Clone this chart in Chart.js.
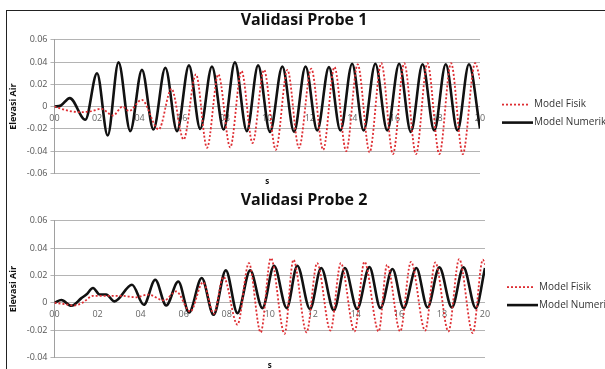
<!DOCTYPE html>
<html>
<head>
<meta charset="utf-8">
<script src="https://cdn.jsdelivr.net/npm/chart.js@4.4.0/dist/chart.umd.min.js"></script>
<style>
  body { margin: 0; background: #fff; overflow: hidden; width: 605px; height: 369px; position: relative; }
  #frame { position: absolute; left: 6px; top: 10px; width: 700px; height: 500px; border: 1px solid #222; }
  .box { position: absolute; left: 0; width: 608px; }
</style>
</head>
<body>
<div id="frame"></div>
<div class="box" style="top:8px;height:182px"><canvas id="probe1"></canvas></div>
<div class="box" style="top:188px;height:186px"><canvas id="probe2"></canvas></div>
<script>
// Validasi Probe 1 - peaks/troughs (time in s, elevation)
var p1NumT = [0, 0.3, 0.72, 1.45, 2.0, 2.5, 3.01, 3.56, 4.11, 4.65, 5.21, 5.76, 6.32, 6.85, 7.4, 7.95, 8.48, 9.04, 9.57, 10.13, 10.71, 11.26, 11.8, 12.35, 12.9, 13.44, 13.99, 14.53, 15.08, 15.64, 16.2, 16.75, 17.3, 17.85, 18.39, 18.94, 19.48, 20];
var p1NumV = [0, 0.001, 0.0076, -0.0118, 0.030, -0.026, 0.0397, -0.022, 0.033, -0.0206, 0.0349, -0.022, 0.037, -0.020, 0.036, -0.0206, 0.0397, -0.022, 0.037, -0.0227, 0.036, -0.0227, 0.036, -0.0215, 0.0355, -0.0215, 0.0385, -0.0215, 0.0385, -0.0215, 0.0385, -0.0227, 0.038, -0.0215, 0.038, -0.0215, 0.038, -0.0196];
var p1FisT = [0, 0.7, 1.25, 1.75, 2.2, 2.75, 3.2, 3.5, 4.1, 4.9, 5.5, 6.07, 6.65, 7.17, 7.7, 8.26, 8.79, 9.31, 9.85, 10.4, 10.95, 11.49, 12.07, 12.63, 13.16, 13.71, 14.25, 14.81, 15.36, 15.91, 16.44, 16.99, 17.53, 18.09, 18.64, 19.19, 19.77, 20];
var p1FisV = [0, -0.004, -0.005, -0.004, -0.002, -0.008, 0.0, -0.004, 0.006, -0.0205, 0.016, -0.0296, 0.029, -0.037, 0.029, -0.0366, 0.032, -0.0327, 0.033, -0.0388, 0.033, -0.037, 0.034, -0.0388, 0.0355, -0.040, 0.038, -0.041, 0.039, -0.0427, 0.039, -0.0427, 0.039, -0.0427, 0.039, -0.0427, 0.039, 0.025];

// Validasi Probe 2
var p2NumT = [0, 0.32, 0.79, 1.25, 1.48, 1.79, 2.1, 2.4, 2.79, 3.6, 4.15, 4.68, 5.19, 5.75, 6.25, 6.84, 7.39, 7.96, 8.5, 9.09, 9.66, 10.2, 10.79, 11.28, 11.87, 12.39, 12.98, 13.49, 14.06, 14.63, 15.14, 15.7, 16.22, 16.81, 17.33, 17.88, 18.46, 19.0, 19.57, 20];
var p2NumV = [0, 0.002, -0.0022, 0.0034, 0.006, 0.0108, 0.006, 0.006, 0.001, 0.0132, -0.0015, 0.0168, -0.002, 0.0156, -0.0071, 0.0181, -0.0088, 0.0237, -0.0076, 0.0237, -0.0039, 0.0271, -0.0039, 0.0271, -0.0046, 0.0254, -0.0056, 0.0254, -0.0046, 0.0261, -0.0039, 0.0247, -0.0039, 0.0254, -0.0034, 0.0259, -0.0034, 0.0259, -0.0039, 0.0254];
var p2FisT = [0, 0.5, 0.9, 1.3, 1.79, 2.5, 3.2, 3.8, 4.34, 5.1, 5.65, 6.31, 6.9, 7.4, 7.85, 8.5, 9.03, 9.58, 10.05, 10.69, 11.1, 11.71, 12.2, 12.82, 13.3, 13.94, 14.4, 15.06, 15.45, 16.06, 16.56, 17.22, 17.69, 18.3, 18.8, 19.43, 19.9, 20];
var p2FisV = [0, -0.001, -0.002, 0.0, 0.005, 0.005, 0.005, 0.004, 0.006, 0.0017, 0.0083, -0.0064, 0.015, -0.008, 0.019, -0.016, 0.029, -0.0217, 0.0327, -0.0227, 0.0315, -0.0217, 0.029, -0.0203, 0.029, -0.021, 0.030, -0.021, 0.0278, -0.021, 0.030, -0.0203, 0.0295, -0.021, 0.032, -0.0222, 0.0315, 0.028];

var seriesNames = ['Model Fisik', 'Model Numerik'];
var titles = ['Validasi Probe 1', 'Validasi Probe 2'];
var xTitle = 's';
var yTitle = 'Elevasi Air';

function pts(t, v) {
    var out = [];
    for (var i = 0; i < t.length; i++) out.push({x: t[i], y: v[i]});
    return out;
}

function fmtY(v) {
    if (Math.abs(v) < 1e-9) return '0';
    return v.toFixed(2);
}

// legend drawn beside the plot, like the excel one (dotted sample for Model Fisik)
var sideLegend = {
    id: 'sideLegend',
    afterDraw: function (chart) {
        var ctx = chart.ctx, a = chart.chartArea;
        var x0 = a.right + 22, yc = (a.top + a.bottom) / 2;
        chart.data.datasets.forEach(function (ds, i) {
            var y = yc - 2 + i * 18;
            ctx.save();
            ctx.strokeStyle = ds.borderColor;
            ctx.lineWidth = ds.borderWidth;
            ctx.setLineDash(ds.borderDash || []);
            ctx.beginPath();
            ctx.moveTo(x0, y);
            ctx.lineTo(x0 + (i ? 31 : 27), y);
            ctx.stroke();
            ctx.setLineDash([]);
            ctx.fillStyle = '#333';
            ctx.font = '10px "Open Sans"';
            ctx.textBaseline = 'middle';
            ctx.fillText(ds.label, x0 + 32, y);
            ctx.restore();
        });
    }
};

function makeChart(id, title, fisT, fisV, numT, numV, yMin, yMax, pad) {
    var ctx = document.getElementById(id).getContext('2d');
    return new Chart(ctx, {
        type: 'line',
        data: {
            datasets: [{
                label: seriesNames[0],
                data: pts(fisT, fisV),
                borderColor: 'rgb(222,45,50)',
                borderWidth: 1.8,
                borderDash: [2, 2],
                pointRadius: 0,
                cubicInterpolationMode: 'monotone'
            }, {
                label: seriesNames[1],
                data: pts(numT, numV),
                borderColor: '#111',
                borderWidth: 2.6,
                pointRadius: 0,
                cubicInterpolationMode: 'monotone'
            }]
        },
        plugins: [sideLegend],
        options: {
            responsive: true,
            maintainAspectRatio: false,
            animation: false,
            layout: { padding: 0 },
            plugins: {
                title: {
                    display: true, text: title, color: '#111',
                    font: { family: 'Open Sans', size: 16, weight: 'bold' },
                    padding: { top: pad.tt, bottom: pad.tb }
                },
                subtitle: {
                    display: true, text: xTitle, position: 'bottom', fullSize: false, color: '#111',
                    font: { family: 'Open Sans', size: 8, weight: 'bold' },
                    padding: { top: 4, bottom: pad.sb }
                },
                legend: { display: false },
                tooltip: { enabled: false }
            },
            scales: {
                x: {
                    type: 'linear', min: 0, max: 20,
                    position: { y: 0 },
                    grid: { display: false, drawTicks: false },
                    border: { display: false },
                    ticks: {
                        stepSize: 2, padding: 6, color: '#666', maxRotation: 0,
                        font: { family: 'Open Sans', size: 9 },
                        callback: function (v) { return String(v).padStart(2, '0'); }
                    }
                },
                y: {
                    min: yMin, max: yMax,
                    grid: { color: '#b4b4b4', lineWidth: 1, tickLength: 4 },
                    border: { color: '#a0a0a0' },
                    ticks: {
                        stepSize: 0.02, padding: 3, color: '#555',
                        font: { family: 'Open Sans', size: 9 },
                        callback: fmtY
                    },
                    title: {
                        display: true, text: yTitle, color: '#111',
                        font: { family: 'Open Sans', size: 9, weight: 'bold' },
                        padding: { top: 8, bottom: 5 }
                    }
                },
                // empty room on the right for the legend
                room: {
                    type: 'linear', position: 'right', display: true,
                    ticks: { display: false }, grid: { display: false }, border: { display: false },
                    afterFit: function (s) { s.width = pad.right; }
                }
            }
        }
    });
}

makeChart('probe1', titles[0], p1FisT, p1FisV, p1NumT, p1NumV, -0.06, 0.06, { tt: 3, tb: 9.6, sb: 3, right: 128 });
makeChart('probe2', titles[1], p2FisT, p2FisV, p2NumT, p2NumV, -0.04, 0.06, { tt: 3, tb: 10.6, sb: 3, right: 123 });
</script>
</body>
</html>
